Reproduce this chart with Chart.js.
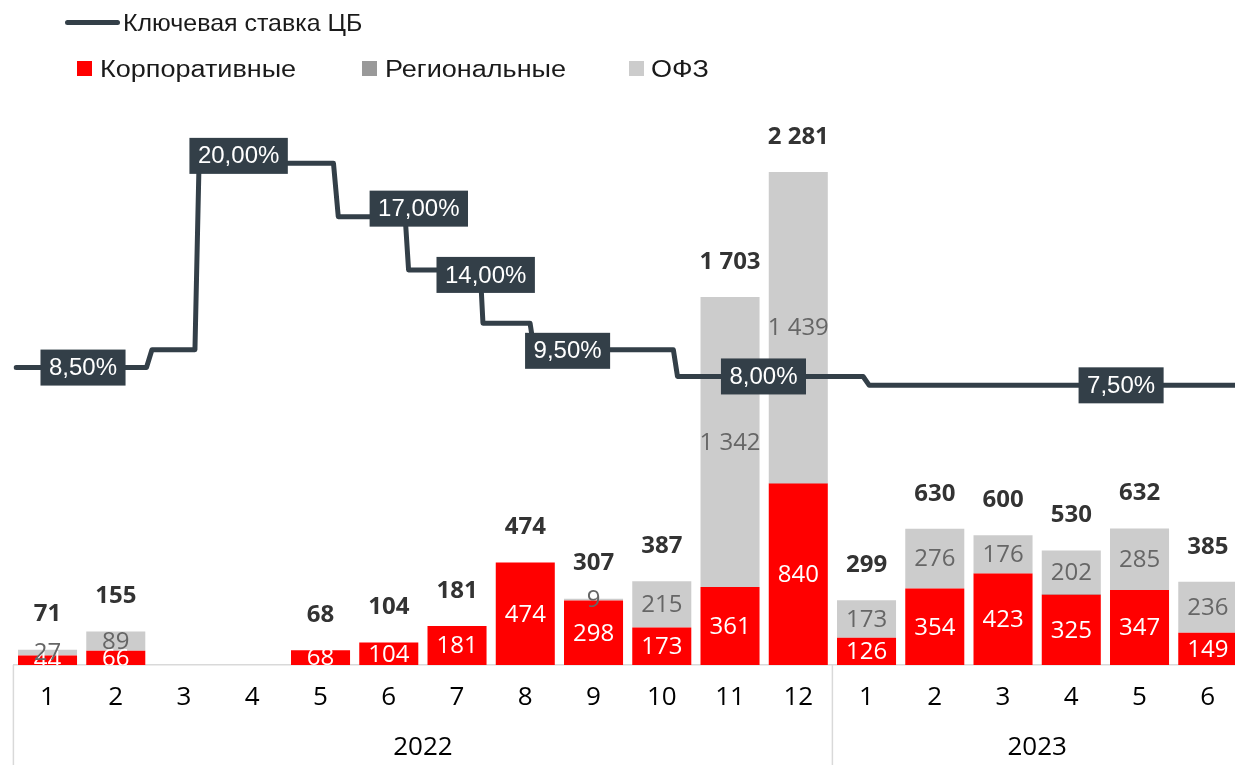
<!DOCTYPE html>
<html><head><meta charset="utf-8">
<script src="https://cdn.jsdelivr.net/npm/chart.js@4.4.1/dist/chart.umd.min.js"></script>
<style>
html,body{margin:0;padding:0;background:#fff;overflow:hidden;width:1235px;height:765px}
#wrap{position:relative;width:1250px;height:765px}
#wrap canvas{position:absolute;left:0;top:0}
.lg{position:absolute;font-family:"Liberation Sans",Arial,sans-serif;font-size:23.5px;line-height:24px;color:#1a1a1a;white-space:nowrap;transform:scaleX(1.15);transform-origin:0 50%}
.lg1{font-size:24px;line-height:24px;transform:scaleX(1.04)}
.sw{position:absolute;width:15px;height:15px}
.ln{position:absolute;height:5px;border-radius:3px;background:#333f48}
</style></head>
<body>
<div id="wrap">
  <canvas id="c" width="1250" height="765"></canvas>
  <div class="ln" style="left:65px;top:20px;width:55px"></div>
  <div class="lg lg1" style="left:123px;top:11px">Ключевая ставка ЦБ</div>
  <div class="sw" style="left:77px;top:61px;background:#ff0000"></div>
  <div class="lg" style="left:100px;top:57px">Корпоративные</div>
  <div class="sw" style="left:362px;top:61px;background:#999999"></div>
  <div class="lg" style="left:385px;top:57px">Региональные</div>
  <div class="sw" style="left:629px;top:61px;background:#cccccc"></div>
  <div class="lg" style="left:651px;top:57px">ОФЗ</div>
</div>
<script>
// ---- data ----
const months = ['1','2','3','4','5','6','7','8','9','10','11','12','1','2','3','4','5','6'];
const years = ['2022','2023'];
const yearSpans = [12, 6];
const corporate = [44, 66, 0, 0, 68, 104, 181, 474, 298, 173, 361, 840, 126, 354, 423, 325, 347, 149];
const regional  = [0, 0, 0, 0, 0, 0, 0, 0, 0, 0, 0, 2, 0, 0, 1, 3, 0, 0];
const ofz       = [27, 89, 0, 0, 0, 0, 0, 0, 9, 215, 1342, 1439, 173, 276, 176, 202, 285, 236];
const totals    = [71, 155, 0, 0, 68, 104, 181, 474, 307, 387, 1703, 2281, 299, 630, 600, 530, 632, 385];
// key rate, x in month-index units along the axis
const rateX = [-0.46, 1.45, 1.53, 2.16, 2.22, 4.19, 4.26, 5.24, 5.29, 6.34, 6.38, 7.07, 7.13, 9.17, 9.23, 11.95, 12.04, 17.40];
const rateY = [8.5, 8.5, 9.5, 9.5, 20, 20, 17, 17, 14, 14, 11, 11, 9.5, 9.5, 8, 8, 7.5, 7.5];
const rateLabelX = [0.52, 2.80, 5.44, 6.42, 7.62, 10.49, 15.73];
const rateLabelV = [8.5, 20, 17, 14, 9.5, 8, 7.5];

// ---- styles ----
const LINE = '#333f48';
const rateLabelDy = [0, -7.5, -8, 5, 1, 0, 0];

function fmt(n){ return String(n).replace(/\B(?=(\d{3})+(?!\d))/g, ' '); }
function pct(v){ return v.toFixed(2).replace('.', ',') + '%'; }

const overlay = {
  id: 'overlay',
  afterDatasetsDraw(chart){
    const ctx = chart.ctx, ca = chart.chartArea;
    ctx.save();
    ctx.textAlign = 'center'; ctx.textBaseline = 'middle';
    // segment labels, clipped to the plot area
    ctx.save();
    ctx.beginPath(); ctx.rect(ca.left, 0, ca.right - ca.left, ca.bottom); ctx.clip();
    const segs = [[0, corporate, '#ffffff'], [2, ofz, '#666666']];
    ctx.font = '24px "Open Sans", sans-serif';
    segs.forEach(([di, arr, col]) => {
      const meta = chart.getDatasetMeta(di);
      arr.forEach((v, i) => {
        if (!v) return;
        const el = meta.data[i];
        ctx.fillStyle = col;
        ctx.fillText(fmt(v), el.x, (el.y + el.base) / 2 + 1);
      });
    });
    ctx.restore();
    // totals
    ctx.font = 'bold 24px "Open Sans", sans-serif';
    ctx.fillStyle = '#333333';
    const topMeta = chart.getDatasetMeta(2);
    totals.forEach((t, i) => {
      if (!t) return;
      const el = topMeta.data[i];
      ctx.fillText(fmt(t), el.x, el.y - 35);
    });
    ctx.restore();
  },
  afterDraw(chart){
    const ctx = chart.ctx, ca = chart.chartArea;
    const xs = chart.scales.x, yr = chart.scales.yr, x2 = chart.scales.x2;
    ctx.save();
    // rate label boxes
    ctx.font = '24px "Liberation Sans", Arial, sans-serif';
    ctx.textAlign = 'center'; ctx.textBaseline = 'middle';
    rateLabelX.forEach((lx, i) => {
      const px = x2.getPixelForValue(lx);
      const py = yr.getPixelForValue(rateLabelV[i]) + rateLabelDy[i];
      const t = pct(rateLabelV[i]);
      const w = ctx.measureText(t).width + 17, h = 36;
      ctx.fillStyle = LINE;
      ctx.fillRect(px - w / 2, py - h / 2, w, h);
      ctx.fillStyle = '#ffffff';
      ctx.fillText(t, px, py + 1);
    });
    // year separators and labels
    const cw = (ca.right - ca.left) / months.length;
    ctx.strokeStyle = '#d9d9d9'; ctx.lineWidth = 1.5;
    ctx.font = '26px "Open Sans", sans-serif';
    ctx.fillStyle = '#000';
    let start = 0;
    years.forEach((y, k) => {
      const x0 = xs.getPixelForValue(start) - cw / 2;
      const x1 = xs.getPixelForValue(start + yearSpans[k] - 1) + cw / 2;
      ctx.beginPath(); ctx.moveTo(x0, ca.bottom); ctx.lineTo(x0, chart.height); ctx.stroke();
      ctx.fillText(y, (x0 + x1) / 2, 748);
      start += yearSpans[k];
    });
    ctx.restore();
  }
};

new Chart(document.getElementById('c'), {
  type: 'bar',
  data: {
    labels: months,
    datasets: [
      { label: 'Корпоративные', data: corporate, backgroundColor: '#ff0000', order: 2 },
      { label: 'Региональные', data: regional, backgroundColor: '#999999', order: 2 },
      { label: 'ОФЗ', data: ofz, backgroundColor: '#cccccc', order: 2 },
      { type: 'line', label: 'Ключевая ставка ЦБ', data: rateX.map((x, i) => ({ x, y: rateY[i] })),
        xAxisID: 'x2', yAxisID: 'yr', borderColor: LINE, borderWidth: 5, pointRadius: 0,
        tension: 0, fill: false, borderCapStyle: 'round', borderJoinStyle: 'round', order: 0 }
    ]
  },
  options: {
    responsive: false, animation: false,
    layout: { padding: { left: 13.4, right: 8.1, top: 103, bottom: 0 } },
    datasets: { bar: { barPercentage: 0.865, categoryPercentage: 1, borderWidth: 0, grouped: false } },
    plugins: { legend: { display: false }, tooltip: { enabled: false } },
    scales: {
      x: {
        stacked: true,
        grid: { display: false, drawTicks: false },
        border: { display: true, color: '#d9d9d9', width: 1.5 },
        ticks: { color: '#000', font: { family: 'Open Sans', size: 26 }, padding: 17, maxRotation: 0, autoSkip: false },
        afterFit(s){ s.height = 100; }
      },
      x2: { type: 'linear', display: false, offset: false, min: -0.5, max: 17.5 },
      y: { stacked: true, display: false, min: 0, max: 2600 },
      yr: { display: false, min: -8.25, max: 23.4 }
    }
  },
  plugins: [overlay]
});
</script>
</body></html>
